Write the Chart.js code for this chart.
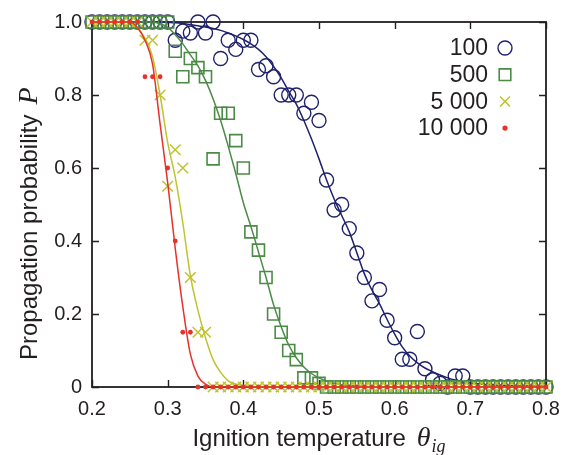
<!DOCTYPE html>
<html>
<head>
<meta charset="utf-8">
<script src="https://cdn.jsdelivr.net/npm/chart.js@4/dist/chart.umd.min.js"></script>
<style>
html,body{margin:0;padding:0;background:#fff;}
#wrap{width:573px;height:455px;position:relative;}
</style>
</head>
<body>
<div id="wrap"><canvas id="c" width="573" height="455"></canvas></div>
<script>
// ---- data ----
const xValues = [0.20,0.21,0.22,0.23,0.24,0.25,0.26,0.27,0.28,0.29,
  0.30,0.31,0.32,0.33,0.34,0.35,0.36,0.37,0.38,0.39,
  0.40,0.41,0.42,0.43,0.44,0.45,0.46,0.47,0.48,0.49,
  0.50,0.51,0.52,0.53,0.54,0.55,0.56,0.57,0.58,0.59,
  0.60,0.61,0.62,0.63,0.64,0.65,0.66,0.67,0.68,0.69,
  0.70,0.71,0.72,0.73,0.74,0.75,0.76,0.77,0.78,0.79,0.80];

const seriesNames = ['100', '500', '5 000', '10 000'];

const p100 = [1,1,1,1,1,1,1,1,1,1,
  1,0.95,0.975,0.97,1,0.97,1,0.9,0.95,0.925,
  0.95,0.95,0.87,0.88,0.85,0.8,0.8,0.8,0.75,0.78,
  0.73,0.567,0.485,0.5,0.434,0.367,0.3,0.236,0.267,0.183,
  0.135,0.076,0.076,0.152,0.05,0.02,0.01,0,0.03,0.03,
  0,0,0,0,0,0,0,0,0,0,0];
const p500 = [1,1,1,1,1,1,1,1,1,1,
  1,0.92,0.85,0.9,0.875,0.85,0.625,0.75,0.75,0.675,
  0.6,0.425,0.375,0.3,0.2,0.15,0.1,0.075,0.025,0.025,
  0.01,0,0,0,0,0,0,0,0,0,
  0,0,0,0,0,0,0,0,0,0,
  0,0,0,0,0,0,0,0,0,0,0];
const p5000 = [1,1,1,1,1,1,1,0.95,0.95,0.8,
  0.55,0.65,0.6,0.3,0.15,0.15,0,0,0,0,
  0,0,0,0,0,0,0,0,0,0,
  0,0,0,0,0,0,0,0,0,0,
  0,0,0,0,0,0,0,0,0,0,
  0,0,0,0,0,0,0,0,0,0,0];
const p10000 = [1,1,1,1,1,1,1,0.85,0.85,0.85,
  0.6,0.4,0.15,0.15,0,0,0,0,0,0,
  0,0,0,0,0,0,0,0,0,0,
  0,0,0,0,0,0,0,0,0,0,
  0,0,0,0,0,0,0,0,0,0,
  0,0,0,0,0,0,0,0,0,0,0];

// fitted curves (same x grid)
const fit100 = [1,1,1,1,1,1,1,1,1,1,
  0.999,0.998,0.996,0.993,0.99,0.986,0.982,0.977,0.97,0.962,
  0.952,0.94,0.925,0.905,0.878,0.847,0.81,0.775,0.73,0.68,
  0.625,0.567,0.515,0.47,0.425,0.368,0.31,0.265,0.228,0.185,
  0.145,0.11,0.085,0.066,0.052,0.042,0.033,0.025,0.019,0.015,
  0.011,0.009,0.007,0.006,0.005,0.004,0.003,0.003,0.002,0.002,0.002];
const fit500 = [1,1,1,1,1,1,1,1,1,0.995,
  0.985,0.965,0.94,0.91,0.88,0.84,0.79,0.73,0.66,0.585,
  0.505,0.44,0.37,0.30,0.225,0.165,0.115,0.08,0.055,0.037,
  0.025,0.016,0.01,0.006,0.004,0.003,0.002,0.001,0.001,0.001,
  0,0,0,0,0,0,0,0,0,0,
  0,0,0,0,0,0,0,0,0,0,0];
const fit5000 = [1,1,1,1,1,1,0.985,0.955,0.905,0.80,
  0.67,0.575,0.45,0.305,0.21,0.135,0.075,0.04,0.017,0.008,
  0.004,0.002,0,0,0,0,0,0,0,0,
  0,0,0,0,0,0,0,0,0,0,
  0,0,0,0,0,0,0,0,0,0,
  0,0,0,0,0,0,0,0,0,0,0];
const fit10000 = [1,1,1,1,1,1,0.985,0.95,0.885,0.72,
  0.56,0.38,0.22,0.09,0.03,0.008,0,0,0,0,
  0,0,0,0,0,0,0,0,0,0,
  0,0,0,0,0,0,0,0,0,0,
  0,0,0,0,0,0,0,0,0,0,
  0,0,0,0,0,0,0,0,0,0,0];

const xTickValues = [0.2,0.3,0.4,0.5,0.6,0.7,0.8];
const yTickValues = [0,0.2,0.4,0.6,0.8,1.0];

// ---- styles ----
const colBlue = '#1f216d';
const colGreen = '#4b8b46';
const colYellow = '#bfc32f';
const colRed = '#e5322b';
const textCol = '#231f20';

const pts = arr => xValues.map((x, i) => ({x: x, y: arr[i]}));

const markerStyles = [
  {pointStyle:'circle', radius:7, borderWidth:1.4, color:colBlue, fill:'rgba(0,0,0,0)'},
  {pointStyle:'rect', radius:8.5, borderWidth:1.6, color:colGreen, fill:'rgba(0,0,0,0)'},
  {pointStyle:'crossRot', radius:7.5, borderWidth:1.5, color:colYellow, fill:'rgba(0,0,0,0)'},
  {pointStyle:'circle', radius:2.4, borderWidth:0, color:colRed, fill:colRed}
];
const seriesData = [p100, p500, p5000, p10000];
const fitData = [fit100, fit500, fit5000, fit10000];
const orders = [3, 2, 1, 0];

const datasets = [];
seriesData.forEach((arr, k) => {
  const m = markerStyles[k];
  datasets.push({
    label: seriesNames[k],
    data: pts(arr),
    showLine: false,
    pointStyle: m.pointStyle,
    pointRadius: m.radius,
    pointBorderWidth: m.borderWidth,
    pointBorderColor: m.color,
    pointBackgroundColor: m.fill,
    pointHoverRadius: m.radius,
    clip: false,
    order: orders[k]
  });
  datasets.push({
    label: seriesNames[k] + ' fit',
    data: pts(fitData[k]),
    showLine: true,
    pointRadius: 0,
    borderColor: m.color,
    borderWidth: 1.5,
    cubicInterpolationMode: 'monotone',
    fill: false,
    clip: false,
    order: orders[k] + 0.5
  });
});

// frame with inward ticks
const framePlugin = {
  id: 'frame',
  beforeDatasetsDraw(chart) {
    const ctx = chart.ctx, a = chart.chartArea;
    const xs = chart.scales.x, ys = chart.scales.y;
    const L = 7;
    ctx.save();
    ctx.strokeStyle = textCol;
    ctx.lineWidth = 1.8;
    ctx.strokeRect(a.left, a.top, a.right - a.left, a.bottom - a.top);
    ctx.lineWidth = 1.4;
    ctx.beginPath();
    xTickValues.forEach(v => {
      const px = Math.round(xs.getPixelForValue(v)) + 0.5;
      ctx.moveTo(px, a.bottom); ctx.lineTo(px, a.bottom - L);
      ctx.moveTo(px, a.top); ctx.lineTo(px, a.top + L);
    });
    yTickValues.forEach(v => {
      const py = Math.round(ys.getPixelForValue(v)) + 0.5;
      ctx.moveTo(a.left, py); ctx.lineTo(a.left + L, py);
      ctx.moveTo(a.right, py); ctx.lineTo(a.right - L, py);
    });
    ctx.stroke();
    ctx.restore();
  }
};

// legend (text left of marker) and axis titles
const annotPlugin = {
  id: 'annot',
  afterDraw(chart) {
    const ctx = chart.ctx;
    ctx.save();
    // legend
    const lx = 488, mx = 505, ly0 = 48, dy = 26.7;
    ctx.font = '23px "Liberation Sans", Arial, sans-serif';
    ctx.fillStyle = textCol;
    ctx.textAlign = 'right';
    ctx.textBaseline = 'middle';
    seriesNames.forEach((name, k) => {
      const y = ly0 + k * dy;
      ctx.fillStyle = textCol;
      ctx.fillText(name, lx, y + 1);
      const m = markerStyles[k];
      ctx.strokeStyle = m.color;
      ctx.fillStyle = m.fill;
      ctx.lineWidth = m.borderWidth;
      let r = m.radius;
      if (k === 1) r = 8.2;
      if (k === 2) r = 7;
      if (k === 3) r = 2.6;
      Chart.helpers.drawPoint(ctx, {pointStyle: m.pointStyle, radius: r, rotation: 0, borderWidth: m.borderWidth}, mx, y);
    });

    // x title
    const a = chart.chartArea;
    ctx.fillStyle = textCol;
    ctx.textAlign = 'left';
    ctx.textBaseline = 'alphabetic';
    const f1 = '24px "Liberation Sans", Arial, sans-serif';
    const f2 = 'italic 28px "Liberation Serif", "DejaVu Serif", serif';
    const f3 = 'italic 18px "Liberation Serif", "DejaVu Serif", serif';
    const t1 = 'Ignition temperature', t2 = 'θ', t3 = 'ig';
    ctx.font = f1; const w1 = ctx.measureText(t1).width;
    ctx.font = f2; const w2 = ctx.measureText(t2).width;
    ctx.font = f3; const w3 = ctx.measureText(t3).width;
    const gap = 11;
    const total = w1 + gap + w2 + w3 + 1;
    const cx = (a.left + a.right) / 2;
    let x0 = cx - total / 2;
    const by = 446;
    ctx.font = f1; ctx.fillText(t1, x0, by);
    ctx.font = f2; ctx.fillText(t2, x0 + w1 + gap, by);
    ctx.font = f3; ctx.fillText(t3, x0 + w1 + gap + w2 + 1, by + 6);

    // y title
    ctx.translate(37, 360);
    ctx.rotate(-Math.PI / 2);
    ctx.font = f1;
    const yt = 'Propagation probability';
    const yw = ctx.measureText(yt).width;
    ctx.fillText(yt, 0, 0);
    ctx.font = f2;
    ctx.fillText('P', yw + 10, 0);
    ctx.restore();
  }
};

new Chart(document.getElementById('c'), {
  type: 'scatter',
  data: { datasets: datasets },
  options: {
    responsive: false,
    devicePixelRatio: 1,
    animation: false,
    events: [],
    layout: { padding: { left: 0, top: 16, right: 27, bottom: 0 } },
    plugins: { legend: { display: false }, tooltip: { enabled: false } },
    scales: {
      x: {
        type: 'linear', min: 0.2, max: 0.8,
        grid: { display: false, drawTicks: false },
        border: { display: false },
        afterBuildTicks: s => { s.ticks = xTickValues.map(v => ({value: v})); },
        afterFit: s => { s.height = 68; },
        ticks: {
          color: textCol, padding: 10,
          font: { family: '"Liberation Sans", Arial, sans-serif', size: 20 },
          callback: v => v.toFixed(1)
        }
      },
      y: {
        type: 'linear', min: 0, max: 1,
        grid: { display: false, drawTicks: false },
        border: { display: false },
        afterBuildTicks: s => { s.ticks = yTickValues.map(v => ({value: v})); },
        afterFit: s => { s.width = 92; },
        ticks: {
          color: textCol, padding: 10,
          font: { family: '"Liberation Sans", Arial, sans-serif', size: 20 },
          callback: v => (v === 0 ? '0' : v.toFixed(1))
        }
      }
    }
  },
  plugins: [framePlugin, annotPlugin]
});
</script>
</body>
</html>
